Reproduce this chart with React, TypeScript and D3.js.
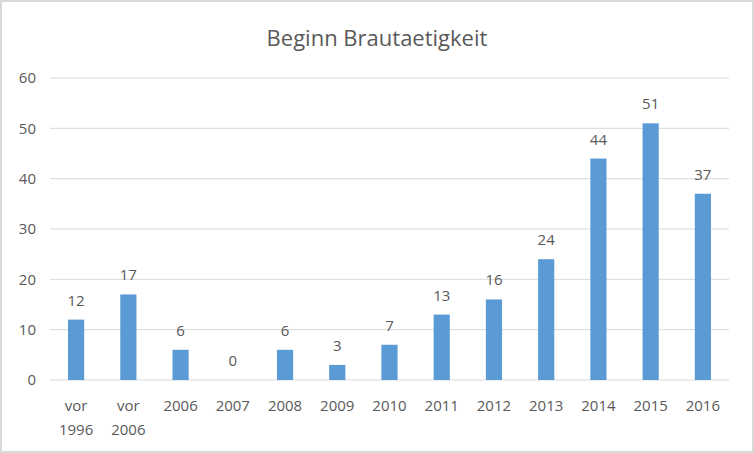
import React from "react";
import * as d3 from "d3";

const categories: string[][] = [
  ["vor", "1996"], ["vor", "2006"], ["2006"], ["2007"], ["2008"], ["2009"], ["2010"],
  ["2011"], ["2012"], ["2013"], ["2014"], ["2015"], ["2016"],
];
const values: number[] = [12, 17, 6, 0, 6, 3, 7, 13, 16, 24, 44, 51, 37];
const yTicks: number[] = [0, 10, 20, 30, 40, 50, 60];
const title = "Beginn Brautaetigkeit";

const W = 754, H = 453;
const left = 50, right = 729, top = 78, bottom = 380;
const font = "'Open Sans', 'Liberation Sans', sans-serif";
const textColor = "#595959";

export default function App() {
  const keys = categories.map((c) => c.join(" "));
  const x = d3.scaleBand<string>().domain(keys).range([left, right]).paddingInner(0.69).paddingOuter(0.345);
  const y = d3.scaleLinear().domain([0, 60]).range([bottom, top]);
  const bw = x.bandwidth();
  return (
    <svg width={W} height={H} style={{ position: "absolute", left: 0, top: 0 }}>
      <rect x={1} y={1} width={W - 2} height={H - 2} fill="#fff" stroke="#d9d9d9" strokeWidth={2} />
      <text x={377} y={46} textAnchor="middle" fontFamily={font} fontSize={22} fill={textColor}>{title}</text>
      {yTicks.map((t) => (
        <g key={t}>
          <line x1={left} x2={right} y1={y(t)} y2={y(t)} stroke="#d9d9d9" strokeWidth={1} />
          <text x={36} y={y(t)} dy="0.35em" textAnchor="end" fontFamily={font} fontSize={15} fill={textColor}>{t}</text>
        </g>
      ))}
      {values.map((v, i) => {
        const k = keys[i];
        const cx = (x(k) as number) + bw / 2;
        return (
          <g key={k}>
            <rect x={x(k)} y={y(v)} width={bw} height={bottom - y(v)} fill="#5B9BD5" />
            <text x={cx} y={y(v) - 14} textAnchor="middle" fontFamily={font} fontSize={15} fill={textColor}>{v}</text>
            {categories[i].map((line, j) => (
              <text key={j} x={cx} y={411 + j * 24} textAnchor="middle" fontFamily={font} fontSize={15} fill={textColor}>{line}</text>
            ))}
          </g>
        );
      })}
    </svg>
  );
}
